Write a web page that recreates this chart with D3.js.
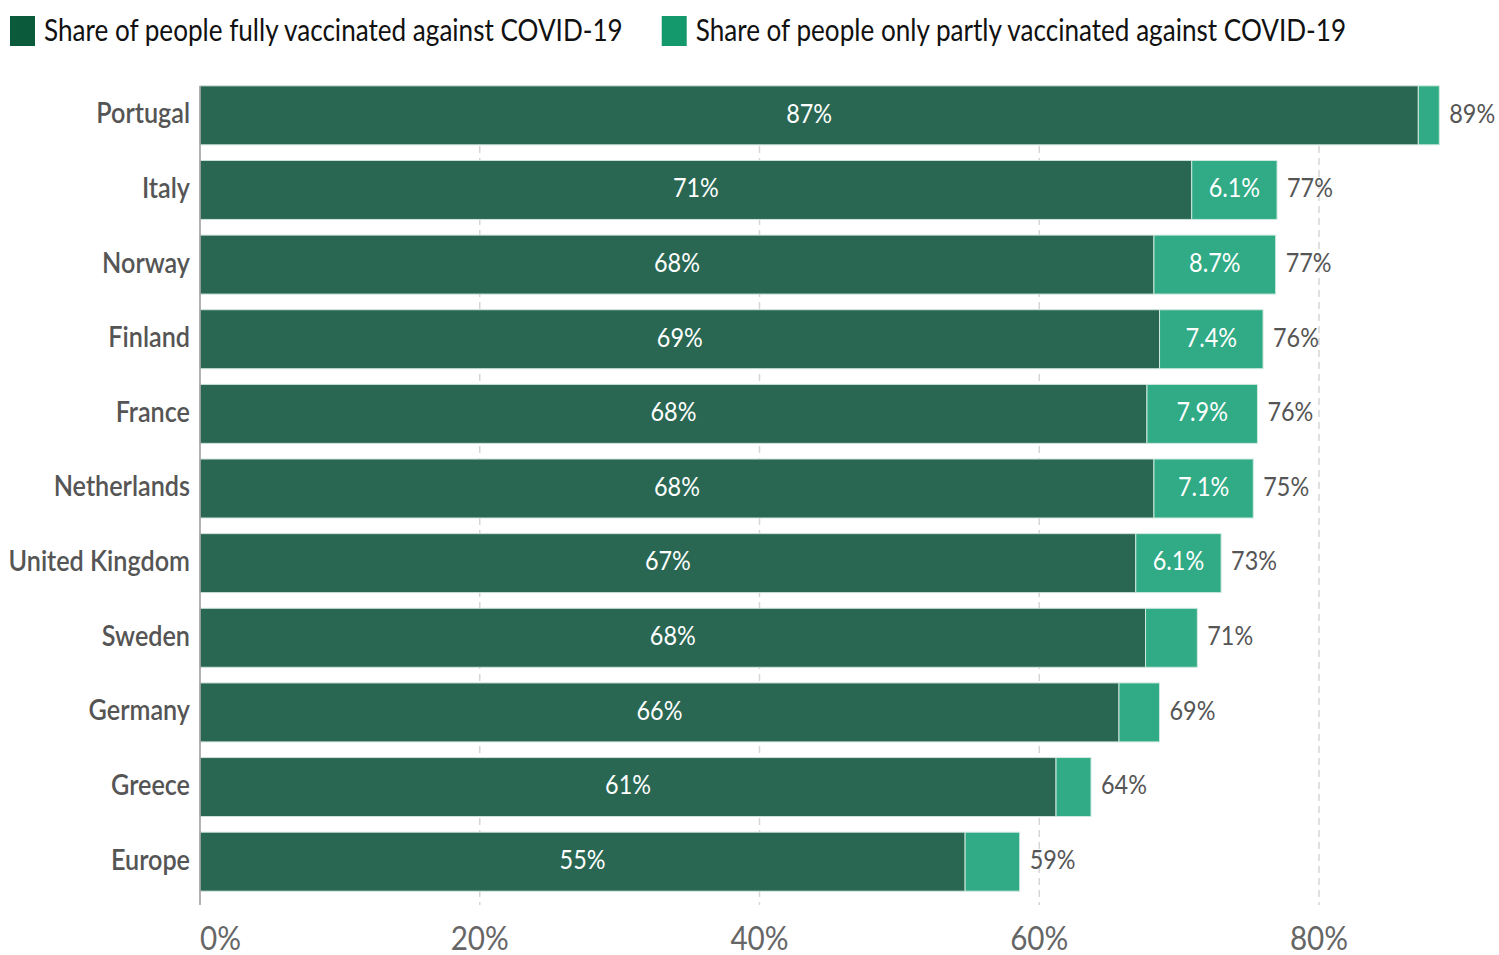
<!DOCTYPE html>
<html>
<head>
<meta charset="utf-8">
<script src="https://cdn.jsdelivr.net/npm/d3@7"></script>
<style>
  html, body { margin: 0; padding: 0; background: #fff; }
  svg { display: block; font-family: Lato, "Open Sans", sans-serif; }
</style>
</head>
<body>
<svg id="chart" width="1499" height="955"></svg>
<script>
// share of population vaccinated against COVID-19, stacked horizontal bars
const countries = ["Portugal", "Italy", "Norway", "Finland", "France", "Netherlands",
    "United Kingdom", "Sweden", "Germany", "Greece", "Europe"];
const fullyVaccinated = [87.1, 70.9, 68.2, 68.6, 67.7, 68.2, 66.9, 67.6, 65.7, 61.2, 54.7];
const partlyVaccinated = [1.5, 6.1, 8.7, 7.4, 7.9, 7.1, 6.1, 3.7, 2.9, 2.5, 3.9];
const xTicks = [0, 20, 40, 60, 80];
const legendLabels = ["Share of people fully vaccinated against COVID-19",
    "Share of people only partly vaccinated against COVID-19"];

(function () {
    const svg = d3.select("#chart");

    const darkBar = "#296753", lightBar = "#30ab86";
    const darkKey = "#0b5a3b", lightKey = "#14996c";
    const squeeze = 0.9; // glyphs in the reference are narrow

    const rows = countries.map((c, i) => ({
        country: c,
        full: fullyVaccinated[i],
        partly: partlyVaccinated[i],
        total: fullyVaccinated[i] + partlyVaccinated[i]
    }));

    const x = d3.scaleLinear().domain([0, 80]).range([200, 1319]);
    const y = d3.scaleBand().domain(countries).range([78, 899])
        .paddingInner(0.21).paddingOuter(0.105);

    // helper: narrow text drawn at a point
    function label(g, px, py, txt, opts) {
        return g.append("text")
            .attr("transform", `translate(${px},${py}) scale(${opts.squeeze || squeeze},1)`)
            .attr("text-anchor", opts.anchor || "start")
            .attr("dy", opts.dy !== undefined ? opts.dy : "0.32em")
            .style("font-size", opts.size + "px")
            .style("fill", opts.fill)
            .style("font-weight", opts.weight || 400)
            .text(txt);
    }

    // gridlines
    const gridTop = 86, gridBottom = 905;
    svg.append("g").selectAll("line")
        .data(xTicks.filter(t => t > 0))
        .join("line")
        .attr("x1", d => x(d)).attr("x2", d => x(d))
        .attr("y1", gridTop).attr("y2", gridBottom)
        .attr("stroke", "#d6d6d6")
        .attr("stroke-width", 1.5)
        .attr("stroke-dasharray", "7,5");

    // bars
    const bars = svg.append("g");
    bars.selectAll(".full")
        .data(rows)
        .join("rect")
        .attr("class", "full")
        .attr("x", x(0))
        .attr("y", d => y(d.country))
        .attr("width", d => x(d.full) - x(0))
        .attr("height", y.bandwidth())
        .attr("fill", darkBar)
        .attr("stroke", "#cfe2d9")
        .attr("stroke-width", 1);

    bars.selectAll(".partly")
        .data(rows)
        .join("rect")
        .attr("class", "partly")
        .attr("x", d => x(d.full))
        .attr("y", d => y(d.country))
        .attr("width", d => x(d.total) - x(d.full))
        .attr("height", y.bandwidth())
        .attr("fill", lightBar)
        .attr("stroke", "#cfe9de")
        .attr("stroke-width", 1);

    // axis line
    svg.append("line")
        .attr("x1", x(0)).attr("x2", x(0))
        .attr("y1", gridTop).attr("y2", gridBottom)
        .attr("stroke", "#9a9a9a")
        .attr("stroke-width", 1.5);

    const labels = svg.append("g");
    rows.forEach(d => {
        const cy = y(d.country) + y.bandwidth() / 2 - 1;
        label(labels, x(0) - 10, cy, d.country, {anchor: "end", size: 28, fill: "#555", weight: 600});
        label(labels, (x(0) + x(d.full)) / 2, cy, Math.round(d.full) + "%", {anchor: "middle", size: 26, fill: "#fff"});
        if (d.partly >= 5) {
            label(labels, (x(d.full) + x(d.total)) / 2, cy, d.partly.toFixed(1) + "%", {anchor: "middle", size: 26, fill: "#fff"});
        }
        label(labels, x(d.total) + 10, cy, Math.round(d.total) + "%", {size: 26, fill: "#555"});
    });

    // x tick labels (first one sits on the axis)
    xTicks.forEach((t, i) => {
        label(svg, x(t), 950, t + "%", {anchor: i === 0 ? "start" : "middle", size: 33, fill: "#666", dy: "0em"});
    });

    // legend
    const legend = svg.append("g");
    const keyColors = [darkKey, lightKey];
    const legendSqueeze = 0.87;
    let lx = 10;
    legendLabels.forEach((txt, i) => {
        legend.append("rect")
            .attr("x", lx).attr("y", 16)
            .attr("width", 25).attr("height", 30)
            .attr("fill", keyColors[i]);
        const t = label(legend, lx + 34, 31, txt, {size: 30, fill: "#111", squeeze: legendSqueeze});
        lx += 34 + t.node().getComputedTextLength() * legendSqueeze + 39;
    });
})();
</script>
</body>
</html>
